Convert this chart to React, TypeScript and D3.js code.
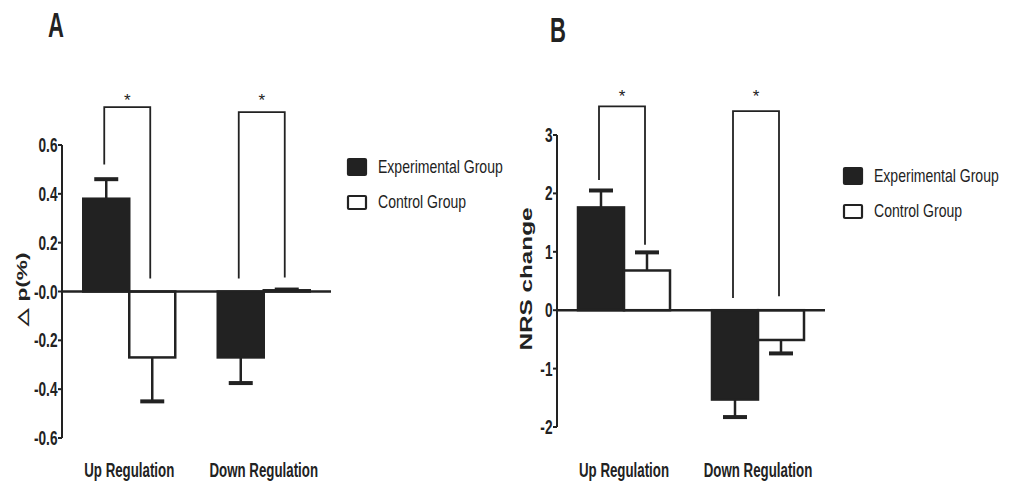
import React from "react";
import * as d3 from "d3";

const categories = ["Up Regulation", "Down Regulation"];
const seriesNames = ["Experimental Group", "Control Group"];

// panel A: delta p (%)
const aExperimental = [0.38, -0.27];
const aControl = [-0.27, 0.005];
const aExpErr = [0.08, 0.105];
const aCtrlErr = [0.18, 0.003];
const aTicks = [-0.6, -0.4, -0.2, 0, 0.2, 0.4, 0.6];
const aTickLabels = ["-0.6", "-0.4", "-0.2", "-0.0", "0.2", "0.4", "0.6"];
// significance brackets: top, left leg end, right leg end (data units)
const aBracketTop = [0.755, 0.735];
const aBracketLeft = [0.52, 0.053];
const aBracketRight = [0.053, 0.057];

// panel B: NRS change
const bExperimental = [1.76, -1.53];
const bControl = [0.68, -0.51];
const bExpErr = [0.29, 0.3];
const bCtrlErr = [0.31, 0.23];
const bTicks = [-2, -1, 0, 1, 2, 3];
const bTickLabels = ["-2", "-1", "0", "1", "2", "3"];
const bBracketTop = [3.49, 3.41];
const bBracketLeft = [2.23, 0.21];
const bBracketRight = [1.12, 0.24];

const sans = "'Liberation Sans', Arial, sans-serif";
const ink = "#222";

// condensed text: no narrow font installed, so squeeze Liberation Sans horizontally
const Narrow = ({ x, y, sx = 0.78, anchor = "start", size = 17, bold = false, dy = "0", children }) => (
  <text
    transform={`translate(${x},${y}) scale(${sx},1)`}
    dy={dy}
    textAnchor={anchor}
    fontFamily={sans}
    fontWeight={bold ? "bold" : "normal"}
    fontSize={size}
    fill={ink}
  >
    {children}
  </text>
);

const Panel = ({
  letter,
  yLabel,
  experimental,
  control,
  expErr,
  ctrlErr,
  ticks,
  tickLabels,
  bracketTop,
  bracketLeft,
  bracketRight,
  axisX,
  axisRight,
  yTop,
  yBottom,
  legendX,
  legendY,
  starY,
  labelX,
  labelY,
  labelLen,
  labelSize,
  titleX,
  titleY,
}) => {
  const y = d3
    .scaleLinear()
    .domain([ticks[0], ticks[ticks.length - 1]])
    .range([yBottom, yTop]);

  const x = d3.scalePoint().domain(categories).range([axisX, axisRight]).padding(0.5);
  const inner = d3.scaleBand().domain(seriesNames).range([-46, 46]);

  const values = [experimental, control];
  const errs = [expErr, ctrlErr];
  const y0 = y(0);

  return (
    <g>
      <Narrow x={titleX} y={titleY} size={35} bold sx={0.63}>
        {letter}
      </Narrow>

      {/* bars */}
      {seriesNames.map((s, si) =>
        categories.map((c, ci) => {
          const v = values[si][ci];
          const bx = x(c) + inner(s);
          const top = Math.min(y(v), y0);
          const h = Math.max(Math.abs(y(v) - y0), 1);
          const e = v >= 0 ? v + errs[si][ci] : v - errs[si][ci];
          const cx = bx + inner.bandwidth() / 2;
          return (
            <g key={s + c}>
              <line x1={cx} x2={cx} y1={y(v)} y2={y(e)} stroke={ink} strokeWidth={2.5} />
              <line x1={cx - 12} x2={cx + 12} y1={y(e)} y2={y(e)} stroke={ink} strokeWidth={4} />
              <rect
                x={bx}
                y={top}
                width={inner.bandwidth()}
                height={h}
                fill={si === 0 ? ink : "#fff"}
                stroke={ink}
                strokeWidth={2.5}
              />
            </g>
          );
        })
      )}

      {/* axes */}
      <line x1={axisX} x2={axisX} y1={yTop} y2={yBottom} stroke={ink} strokeWidth={2} />
      <line x1={axisX} x2={axisRight} y1={y0} y2={y0} stroke={ink} strokeWidth={2.5} />
      {ticks.map((t, i) => (
        <g key={t}>
          <line x1={axisX - 4} x2={axisX} y1={y(t)} y2={y(t)} stroke={ink} strokeWidth={2} />
          <Narrow x={axisX - 4.5} y={y(t)} dy="0.36em" anchor="end" size={19.5} bold sx={0.7}>
            {tickLabels[i]}
          </Narrow>
        </g>
      ))}
      {categories.map((c) => (
        <Narrow key={c} x={x(c)} y={477} anchor="middle" size={20} bold sx={0.665}>
          {c}
        </Narrow>
      ))}
      <text
        transform={`translate(${labelX},${labelY}) rotate(-90)`}
        textAnchor="middle"
        fontFamily={sans}
        fontWeight="bold"
        fontSize={labelSize}
        textLength={labelLen}
        lengthAdjust="spacingAndGlyphs"
        fill={ink}
      >
        {yLabel}
      </text>

      {/* significance brackets */}
      {categories.map((c, ci) => {
        const lx = x(c) + inner(seriesNames[0]) + inner.bandwidth() / 2 - 2;
        const rx = x(c) + inner(seriesNames[1]) + inner.bandwidth() / 2 - 2;
        return (
          <g key={"br" + c}>
            <path
              d={`M${lx},${y(bracketLeft[ci])}V${y(bracketTop[ci])}H${rx}V${y(bracketRight[ci])}`}
              fill="none"
              stroke={ink}
              strokeWidth={1.8}
            />
            <text
              x={(lx + rx) / 2}
              y={starY}
              textAnchor="middle"
              fontFamily={sans}
              fontSize={17}
              fill={ink}
            >
              *
            </text>
          </g>
        );
      })}

      {/* legend */}
      {seriesNames.map((s, i) => (
        <g key={"lg" + s} transform={`translate(${legendX},${legendY + i * 35})`}>
          <rect
            x={1}
            y={i === 0 ? 0 : 2}
            width={18}
            height={i === 0 ? 16 : 13}
            fill={i === 0 ? ink : "#fff"}
            stroke={ink}
            strokeWidth={2.2}
            rx={1}
          />
          <Narrow x={31} y={8} dy="0.36em" size={18} sx={0.78}>
            {s}
          </Narrow>
        </g>
      ))}
    </g>
  );
};

export default function App() {
  return (
    <svg
      width={1016}
      height={484}
      style={{ position: "absolute", left: 0, top: 0, background: "#fff" }}
    >
      <Panel
        letter="A"
        yLabel="△ p(%)"
        experimental={aExperimental}
        control={aControl}
        expErr={aExpErr}
        ctrlErr={aCtrlErr}
        ticks={aTicks}
        tickLabels={aTickLabels}
        bracketTop={aBracketTop}
        bracketLeft={aBracketLeft}
        bracketRight={aBracketRight}
        axisX={62}
        axisRight={331}
        yTop={145}
        yBottom={438}
        legendX={347}
        legendY={159}
        starY={106}
        labelX={27}
        labelY={289}
        labelLen={73}
        labelSize={14}
        titleX={48}
        titleY={37}
      />
      <Panel
        letter="B"
        yLabel="NRS change"
        experimental={bExperimental}
        control={bControl}
        expErr={bExpErr}
        ctrlErr={bCtrlErr}
        ticks={bTicks}
        tickLabels={bTickLabels}
        bracketTop={bBracketTop}
        bracketLeft={bBracketLeft}
        bracketRight={bBracketRight}
        axisX={557}
        axisRight={825}
        yTop={135}
        yBottom={427}
        legendX={843}
        legendY={168}
        starY={102}
        labelX={532}
        labelY={279}
        labelLen={143}
        labelSize={17}
        titleX={550}
        titleY={42}
      />
    </svg>
  );
}
